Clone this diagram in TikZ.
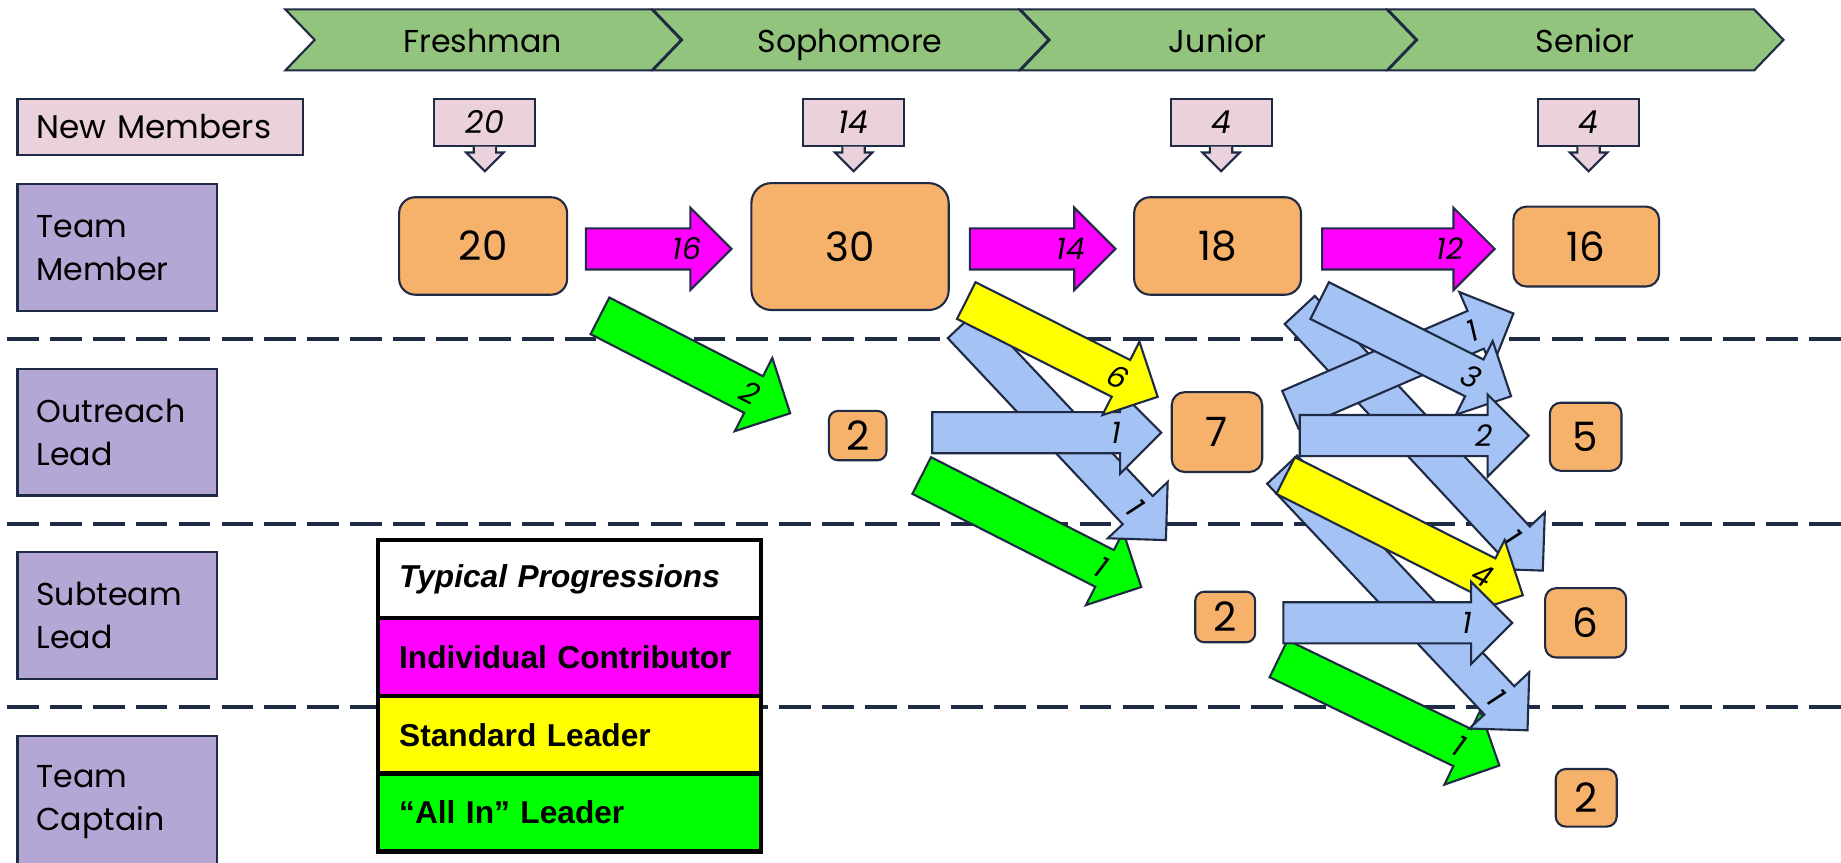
\documentclass[tikz,border=0pt]{standalone}
\usepackage{fontspec}
\setmainfont{Poppins}
\newfontfamily\legendfont{Liberation Sans}
\usetikzlibrary{calc,positioning}
\definecolor{navy}{HTML}{1F2A44}
\definecolor{stagegreen}{HTML}{93C47D}
\definecolor{rolepurple}{HTML}{B4A7D6}
\definecolor{newpink}{HTML}{EAD1DC}
\definecolor{countorange}{HTML}{F6B26B}
\definecolor{flowblue}{HTML}{A4C2F4}
\definecolor{flowmagenta}{HTML}{FF00FF}
\definecolor{flowyellow}{HTML}{FFFF00}
\definecolor{flowgreen}{HTML}{00FF00}
\def\shafthalf{0.2055cm}
\def\headhalf{0.411cm}
\def\headlen{0.411cm}
\def\labelback{0.446cm}
\tikzset{
    stagebox/.style={draw=navy, line width=0.6pt, fill=stagegreen},
    stagetext/.style={font=\fontsize{9}{11}\selectfont, anchor=base},
    rolebox/.style={draw=navy, line width=0.6pt, fill=rolepurple, minimum width=1.996cm,
        minimum height=1.268cm, text width=1.62cm, inner xsep=0.188cm, align=left,
        font=\fontsize{9}{12.2}\selectfont},
    newbox/.style={draw=navy, line width=0.6pt, fill=newpink, minimum width=1.01cm,
        minimum height=0.47cm, inner sep=0pt, font=\itshape\fontsize{9}{10}\selectfont},
    countbox/.style={draw=navy, line width=0.6pt, fill=countorange, rounded corners=0.16cm,
        inner sep=0pt, font=\fontsize{11.5}{13}\selectfont},
    flowarrow/.style={draw=navy, line width=0.6pt},
    flowlabel/.style={font=\itshape\fontsize{8.5}{9}\selectfont, inner sep=0pt},
    laneline/.style={navy, line width=1.1pt, dash pattern=on 9pt off 3.2pt},
    legendrow/.style={draw=black, line width=1.3pt, outer sep=0pt, minimum width=3.827cm,
        minimum height=0.778cm, text width=3.405cm, inner xsep=0.211cm, align=left,
        font=\legendfont\bfseries\fontsize{9}{11}\selectfont}
}
% block arrow: fill colour, tail, tip, label
\newcommand{\progarrow}[4]{%
    \coordinate (fbase) at ($(#3)!\headlen!(#2)$);
    \draw[flowarrow, fill=#1] ($(#2)!\shafthalf!90:(#3)$) -- ($(fbase)!\shafthalf!90:(#3)$)
        -- ($(fbase)!\headhalf!90:(#3)$) -- (#3) -- ($(fbase)!\headhalf!-90:(#3)$)
        -- ($(fbase)!\shafthalf!-90:(#3)$) -- ($(#2)!\shafthalf!-90:(#3)$) -- cycle;
    \path (#2) -- ($(#3)!\labelback!(#2)$) node[pos=1, sloped, flowlabel] {#4};
}

\begin{document}
\begin{tikzpicture}[x=0.01174cm, y=-0.01174cm]
\useasboundingbox (0,0) rectangle (1568,735);

% years
\foreach \x/\name/\lbl in {243/fresh/Freshman, 556/soph/Sophomore, 869/jun/Junior, 1182/sen/Senior} {
    \draw[stagebox] (\x,8) -- ++(312,0) -- ++(25,26) -- ++(-25,26) -- ++(-312,0) -- ++(25,-26) -- cycle;
    \node[stagetext] (\name) at (\x+168,45) {\lbl};
}

% lanes
\foreach \y in {289, 446, 602}
    \draw[laneline] (6,\y) -- (1568,\y);

% roles
\node[rolebox, fill=newpink, minimum width=2.853cm, minimum height=0.5635cm, text width=2.477cm,
    font=\fontsize{9.3}{12.2}\selectfont] (newmem) at (136.5,108) {New Members};
\node[rolebox] (member) at (100,211) {Team\\Member};
\node[rolebox] (outreach) at (100,368) {Outreach\\Lead};
\node[rolebox] (subteam) at (100,524.5) {Subteam\\Lead};
\node[rolebox, minimum height=1.327cm] (captain) at (100,683.5) {Team\\Captain};

% new members per year
\foreach \x/\n/\name in {413/20/nmfresh, 727/14/nmsoph, 1040/4/nmjun, 1353/4/nmsen} {
    \node[newbox] (\name) at (\x,104) {\n};
    \filldraw[draw=navy, line width=0.6pt, fill=newpink] ($(\name.south)+(-9.5,0)$) -- ++(0,5)
        -- ++(-6.5,0) -- ++(16,16) -- ++(16,-16) -- ++(-6.5,0) -- ++(0,-5);
}

% head counts
\node[countbox, minimum width=1.679cm, minimum height=0.974cm] (mfresh) at (411.5,209.5) {20};
\node[countbox, minimum width=1.972cm, minimum height=1.268cm, rounded corners=0.2cm] (msoph) at (724,210) {30};
\node[countbox, minimum width=1.667cm, minimum height=0.974cm] (mjun) at (1037,209.5) {18};
\node[countbox, minimum width=1.456cm, minimum height=0.798cm, rounded corners=0.13cm] (msen) at (1351,210) {16};
\node[countbox, minimum width=0.575cm, minimum height=0.493cm, rounded corners=0.09cm] (osoph) at (730.5,371) {2};
\node[countbox, minimum width=0.904cm, minimum height=0.798cm, rounded corners=0.13cm] (ojun) at (1036.5,368) {7};
\node[countbox, minimum width=0.716cm, minimum height=0.681cm, rounded corners=0.11cm] (osen) at (1350.5,372) {5};
\node[countbox, minimum width=0.599cm, minimum height=0.505cm, rounded corners=0.09cm] (sjun) at (1043.5,525.5) {2};
\node[countbox, minimum width=0.81cm, minimum height=0.693cm, rounded corners=0.11cm] (ssen) at (1350.5,530.5) {6};
\node[countbox, minimum width=0.61cm, minimum height=0.575cm, rounded corners=0.1cm] (csen) at (1351,679.5) {2};

% arrow ends
\coordinate (m1s) at (499,212);   \coordinate (m1e) at (623,212);
\coordinate (m2s) at (826,212);   \coordinate (m2e) at (950,212);
\coordinate (m3s) at (1126,212);  \coordinate (m3e) at (1273,212);
\coordinate (g1s) at (511,269);   \coordinate (g1e) at (673,352);
\coordinate (g2s) at (785,405);   \coordinate (g2e) at (972,500);
\coordinate (b1s) at (820,276);   \coordinate (b1e) at (993,460);
\coordinate (b2s) at (794,368.5); \coordinate (b2e) at (989,368.5);
\coordinate (y1s) at (823,256);   \coordinate (y1e) at (986,338);
\coordinate (b5s) at (1107,264);  \coordinate (b5e) at (1314,486);
\coordinate (b3s) at (1099,349);  \coordinate (b3e) at (1289,267);
\coordinate (b4s) at (1124,256);  \coordinate (b4e) at (1287,337.5);
\coordinate (b6s) at (1107,371);  \coordinate (b6e) at (1302,371);
\coordinate (g3s) at (1089,561);  \coordinate (g3e) at (1277,652);
\coordinate (b7s) at (1092,400);  \coordinate (b7e) at (1301,622);
\coordinate (y2s) at (1095,405);  \coordinate (y2e) at (1297,507);
\coordinate (b8s) at (1093,530.5); \coordinate (b8e) at (1288,530.5);

% freshman to sophomore
\progarrow{flowmagenta}{m1s}{m1e}{16}
\progarrow{flowgreen}{g1s}{g1e}{2}
% sophomore to junior
\progarrow{flowmagenta}{m2s}{m2e}{14}
\progarrow{flowgreen}{g2s}{g2e}{1}
\progarrow{flowblue}{b1s}{b1e}{1}
\progarrow{flowblue}{b2s}{b2e}{1}
\progarrow{flowyellow}{y1s}{y1e}{6}
% junior to senior
\progarrow{flowmagenta}{m3s}{m3e}{12}
\progarrow{flowblue}{b5s}{b5e}{1}
\progarrow{flowblue}{b3s}{b3e}{1}
\progarrow{flowblue}{b4s}{b4e}{3}
\progarrow{flowblue}{b6s}{b6e}{2}
\progarrow{flowgreen}{g3s}{g3e}{1}
\progarrow{flowblue}{b7s}{b7e}{1}
\progarrow{flowyellow}{y2s}{y2e}{4}
\progarrow{flowblue}{b8s}{b8e}{1}

% legend
\node[legendrow, fill=white, anchor=north west,
    font=\legendfont\bfseries\itshape\fontsize{9}{11}\selectfont] (legtitle) at (322,460) {Typical Progressions};
\node[legendrow, fill=flowmagenta, below=0pt of legtitle] (legic) {Individual Contributor};
\node[legendrow, fill=flowyellow, below=0pt of legic] (legsl) {Standard Leader};
\node[legendrow, fill=flowgreen, below=0pt of legsl] (legai) {“All In” Leader};
\end{tikzpicture}
\end{document}
